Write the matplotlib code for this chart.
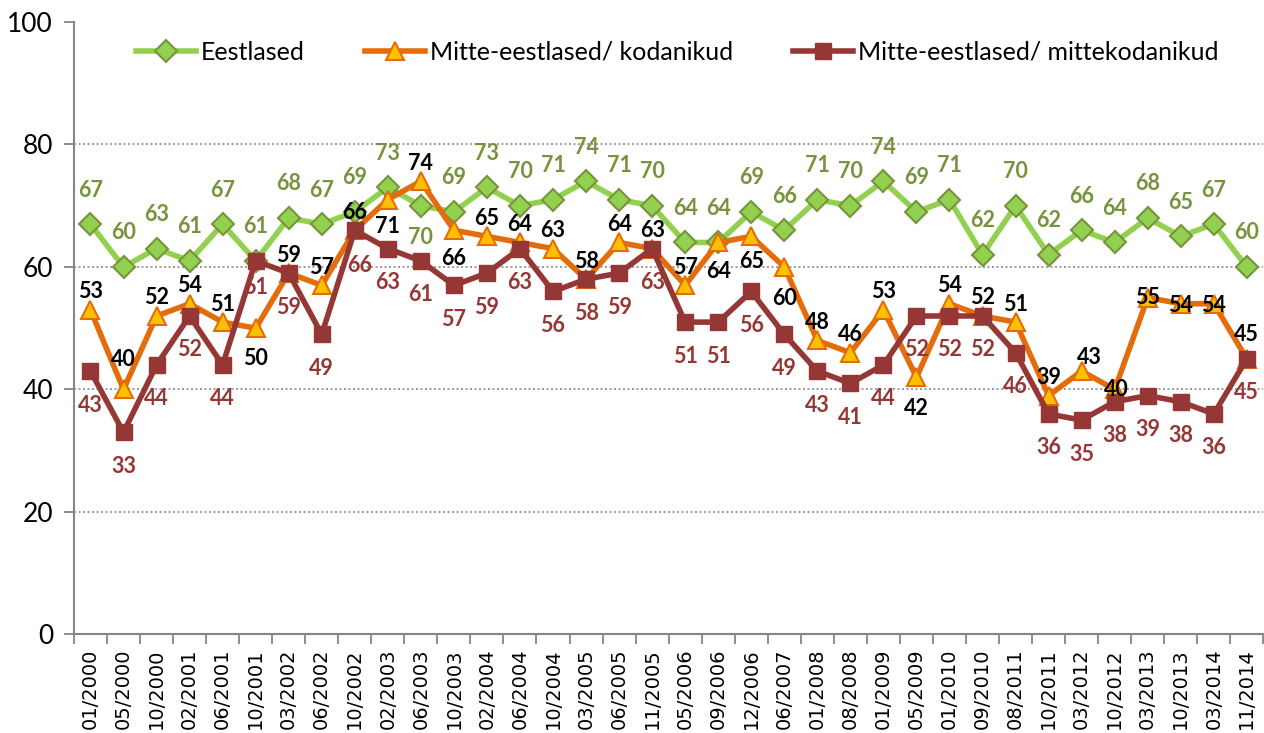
import numpy as np
import matplotlib.pyplot as plt
from matplotlib.ticker import FixedLocator

dates = ["01/2000", "05/2000", "10/2000", "02/2001", "06/2001", "10/2001",
         "03/2002", "06/2002", "10/2002", "02/2003", "06/2003", "10/2003",
         "02/2004", "06/2004", "10/2004", "03/2005", "06/2005", "11/2005",
         "05/2006", "09/2006", "12/2006", "06/2007", "01/2008", "08/2008",
         "01/2009", "05/2009", "01/2010", "09/2010", "08/2011", "10/2011",
         "03/2012", "10/2012", "03/2013", "10/2013", "03/2014", "11/2014"]

eestlased = [67, 60, 63, 61, 67, 61, 68, 67, 69, 73, 70, 69, 73, 70, 71, 74, 71, 70,
             64, 64, 69, 66, 71, 70, 74, 69, 71, 62, 70, 62, 66, 64, 68, 65, 67, 60]
kodanikud = [53, 40, 52, 54, 51, 50, 59, 57, 66, 71, 74, 66, 65, 64, 63, 58, 64, 63,
             57, 64, 65, 60, 48, 46, 53, 42, 54, 52, 51, 39, 43, 40, 55, 54, 54, 45]
mittekodanikud = [43, 33, 44, 52, 44, 61, 59, 49, 66, 63, 61, 57, 59, 63, 56, 58, 59, 63,
                  51, 51, 56, 49, 43, 41, 44, 52, 52, 52, 46, 36, 35, 38, 39, 38, 36, 45]

names = ["Eestlased", "Mitte-eestlased/ kodanikud", "Mitte-eestlased/ mittekodanikud"]

GREEN, GREEN_DK = "#92D050", "#77933C"
ORANGE, GOLD = "#E46C0A", "#FFC000"
RED = "#953735"

x = np.arange(len(dates))

fig = plt.figure(figsize=(12.64, 7.33), dpi=100)
ax = fig.add_axes([0.0585, 0.1344, 0.9410, 0.8356])

l1, = ax.plot(x, eestlased, color=GREEN, lw=4, marker="D", ms=11,
              mfc=GREEN, mec=GREEN_DK, mew=1.5, zorder=3)
l2, = ax.plot(x, kodanikud, color=ORANGE, lw=4, marker="^", ms=13,
              mfc=GOLD, mec=ORANGE, mew=1.5, zorder=4)
l3, = ax.plot(x, mittekodanikud, color=RED, lw=4, marker="s", ms=11,
              mfc=RED, mec=RED, zorder=5)

# label offsets in pixels (dx, dy); default plus exceptions
px = 0.72
green_off = {10: (0, -32)}
orange_off = {1: (0, 30), 5: (0, -30), 9: (0, -27), 11: (0, -28), 19: (0, -29),
              20: (0, -25), 21: (0, -32), 25: (0, -31), 30: (8, 14), 31: (2, 0),
              32: (0, 0), 33: (0, -2), 34: (0, -2), 35: (0, 24)}
red_off = {5: (0, -27), 8: (5, -35)}

lab_font = dict(family="Lato", fontsize=15.5, fontweight="bold",
                ha="center", va="center")
for i in x:
    dx, dy = green_off.get(i, (0, 34))
    ax.annotate(str(eestlased[i]), (i, eestlased[i]), xytext=(dx * px, dy * px),
                textcoords="offset points", color=GREEN_DK, zorder=6, **lab_font)
    dx, dy = orange_off.get(i, (0, 18))
    ax.annotate(str(kodanikud[i]), (i, kodanikud[i]), xytext=(dx * px, dy * px),
                textcoords="offset points", color="black", zorder=7, **lab_font)
    dx, dy = red_off.get(i, (0, -34))
    ax.annotate(str(mittekodanikud[i]), (i, mittekodanikud[i]), xytext=(dx * px, dy * px),
                textcoords="offset points", color=RED, zorder=6, **lab_font)

for g in [20, 40, 60, 80]:
    ax.axhline(g, color="#8C8C8C", lw=1.2, ls=(0, (1.2, 1.5)), zorder=1)

ax.set_xlim(-0.5, len(dates) - 0.5)
ax.set_ylim(0, 100)
ax.set_yticks([0, 20, 40, 60, 80, 100])
ax.set_xticks(x)
ax.set_xticklabels(dates, rotation=90, family="DejaVu Sans", fontsize=14)
ax.xaxis.set_minor_locator(FixedLocator(np.arange(len(dates) + 1) - 0.5))
ax.tick_params(axis="x", which="major", length=0, pad=10)
ax.tick_params(axis="x", which="minor", length=7, color="#868686", width=1.3)
ax.tick_params(axis="y", length=7, color="#868686", width=1.3, pad=8)
for t in ax.get_yticklabels():
    t.set_family("Lato")
    t.set_fontsize(19)

for s in ["top", "right"]:
    ax.spines[s].set_visible(False)
for s in ["left", "bottom"]:
    ax.spines[s].set_color("#868686")
    ax.spines[s].set_linewidth(1.5)

ax.legend([l1, l2, l3], names, loc="center", bbox_to_anchor=(0.507, 0.951),
          ncol=3, frameon=False, prop=dict(family="Lato", size=18),
          handlelength=2.4, handletextpad=0.2, columnspacing=2.4, markerscale=1.0)

fig.savefig("out.png", dpi=100)
